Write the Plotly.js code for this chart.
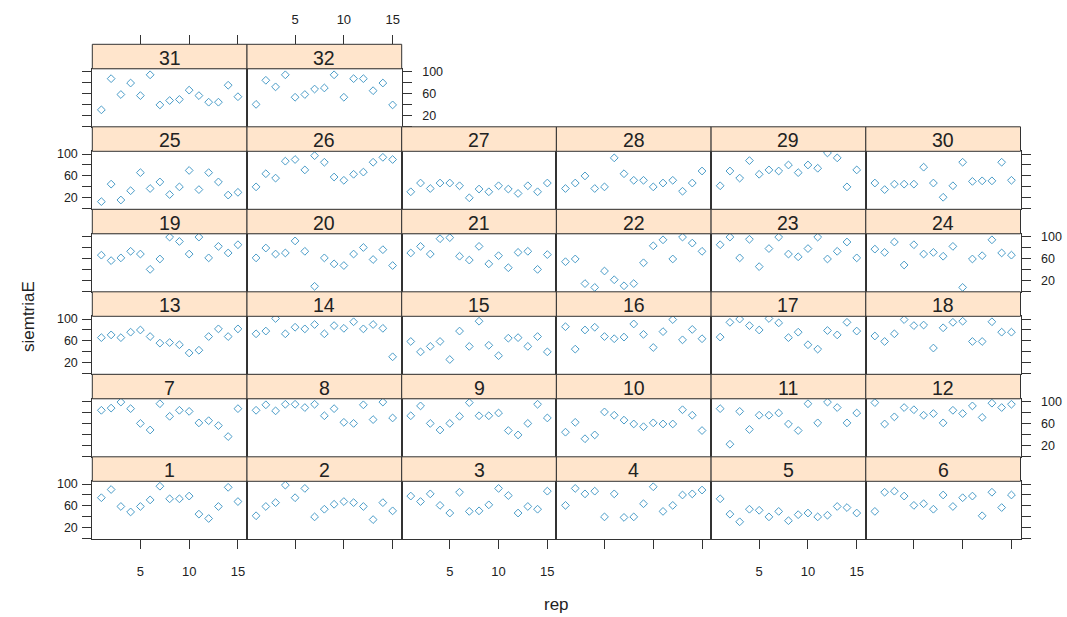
<!DOCTYPE html>
<html><head><meta charset="utf-8">
<script src="https://cdn.plot.ly/plotly-3.0.1.min.js"></script>
<style>html,body{margin:0;padding:0;background:#fff}</style>
</head><body><div id="chart" style="width:1067px;height:617px"></div>
<script>
const rep = [1,2,3,4,5,6,7,8,9,10,11,12,13,14,15];
const panelLabels = ['1','2','3','4','5','6','7','8','9','10','11','12','13','14','15','16','17','18','19','20','21','22','23','24','25','26','27','28','29','30','31','32'];
const xTicks = [5,10,15];
const yTicks = [0,20,40,60,80,100];
const yTickText = ['','20','','60','','100'];

const s1  = [75,90,59,49,59,71,96,73,73,78,45,37,59,94,68];
const s2  = [42,59,66,98,75,92,40,54,63,68,66,59,35,66,51];
const s3  = [78,68,82,61,47,85,50,51,62,92,79,47,59,54,87];
const s4  = [61,92,82,87,40,82,39,40,64,95,50,61,80,82,89];
const s5  = [73,45,31,54,52,40,50,33,44,47,40,43,59,57,47];
const s6  = [50,85,87,78,61,64,54,80,59,75,78,42,85,57,80];
const s7  = [84,88,99,87,60,48,96,73,84,82,61,65,56,36,87];
const s8  = [84,94,83,95,95,89,95,74,87,62,60,94,67,99,70];
const s9  = [74,92,60,48,60,73,98,74,74,79,47,39,60,95,70];
const s10 = [44,62,32,39,81,75,66,59,54,61,59,59,85,75,47];
const s11 = [87,22,82,49,75,75,79,59,47,96,61,99,89,61,79];
const s12 = [98,59,72,89,85,75,78,61,84,78,92,71,97,89,95];
const s13 = [66,71,66,76,80,68,56,57,53,38,43,68,82,68,82];
const s14 = [73,78,101,73,85,82,90,73,88,83,95,82,90,83,31];
const s15 = [59,40,50,59,26,78,50,96,52,33,65,66,50,68,40];
const s16 = [86,45,80,85,68,64,67,91,72,48,77,99,62,81,64];
const s17 = [67,94,100,88,80,101,93,66,76,53,45,79,71,94,78];
const s18 = [69,59,73,99,88,89,47,84,94,96,59,59,95,76,76];
const s19 = [66,56,61,73,68,40,59,99,91,68,99,61,82,70,85];
const s20 = [61,79,68,70,92,73,9,61,50,47,68,80,58,76,47];
const s21 = [70,82,68,96,98,64,57,82,50,65,43,71,73,40,67];
const s22 = [54,59,14,7,37,21,10,14,52,83,94,59,99,88,73];
const s23 = [85,99,61,95,45,78,99,68,63,78,99,59,73,90,61];
const s24 = [77,71,90,48,85,68,71,64,82,7,59,65,94,70,66];
const s25 = [13,45,16,33,66,37,49,26,40,70,35,66,49,25,30];
const s26 = [40,64,56,87,90,71,97,85,58,52,63,67,85,94,90];
const s27 = [31,47,37,47,47,42,20,36,31,42,36,28,42,31,47];
const s28 = [37,47,60,37,40,93,64,52,52,40,47,52,32,47,69];
const s29 = [42,69,56,88,63,71,69,80,66,80,74,102,93,40,71];
const s30 = [47,35,45,45,45,76,47,21,42,85,50,51,51,85,52];
const s31 = [30,87,58,79,56,94,39,47,49,66,56,44,44,75,54];
const s32 = [40,84,72,94,53,58,68,70,94,53,87,87,65,79,39];

const series = [s1,s2,s3,s4,s5,s6,s7,s8,s9,s10,s11,s12,s13,s14,s15,s16,s17,s18,s19,s20,s21,s22,s23,s24,s25,s26,s27,s28,s29,s30,s31,s32];

const W = 1067, H = 617;
const colLeft = 92.3, colW = 154.7, bottom0 = 539.3, rowStep = 82.5, plotH = 58, stripH = 24.5;
const xRange = [0.07, 15.93], yRange = [-1, 105];
const lineCol = '#333333';
const fontFam = '"Liberation Sans", Arial, sans-serif';
const tickFont = {family: fontFam, size: 13, color: '#222'};
const yTickFont = {family: fontFam, size: 12.5, color: '#222'};

const data = [];
const shapes = [];
const annotations = [];
const layout = {
  width: W, height: H, autosize: false,
  margin: {l: 0, r: 0, t: 0, b: 0},
  paper_bgcolor: '#fff', plot_bgcolor: '#fff',
  showlegend: false
};

let extraAxis = 33;
for (let i = 0; i < 32; i++) {
  const r = Math.floor(i / 6), c = i % 6;
  const n = i + 1;
  const xs = n === 1 ? 'x' : 'x' + n;
  const ys = n === 1 ? 'y' : 'y' + n;
  const xk = n === 1 ? 'xaxis' : 'xaxis' + n;
  const yk = n === 1 ? 'yaxis' : 'yaxis' + n;
  const x0 = colLeft + colW * c, x1 = x0 + colW;
  const pb = bottom0 - rowStep * r, pt = pb - plotH, st = pt - stripH;
  const isTopRow = (r === 5);
  const isRight = (c === 5) || (i === 31);
  const isLeft = (c === 0);

  data.push({
    type: 'scatter', mode: 'markers', x: rep, y: series[i],
    xaxis: xs, yaxis: ys,
    marker: {symbol: 'diamond-open', size: 6, color: '#4a9cc8', line: {width: 1}},
    hoverinfo: 'x+y'
  });

  if (isTopRow) {
    // top axis drawn above the strip, as in lattice (empty trace only registers the axis)
    const ex = 'x' + extraAxis;
    data.push({type: 'scatter', mode: 'markers', x: [], y: [], xaxis: ex, yaxis: ys, hoverinfo: 'skip'});
    layout['xaxis' + extraAxis] = {
      overlaying: xs, anchor: 'free', position: 1 - st / H, side: 'top',
      domain: [x0 / W, x1 / W], range: xRange,
      showline: false, showgrid: false, zeroline: false,
      ticks: 'outside', ticklen: 9, tickcolor: lineCol, tickwidth: 1,
      tickmode: 'array', tickvals: xTicks, ticktext: xTicks.map(String),
      showticklabels: (c === 1), tickfont: tickFont, ticklabelstandoff: 6, fixedrange: true
    };
    extraAxis++;
  }

  const xTicksOn = (r === 0);
  const xLabels = (r === 0 && c % 2 === 0);
  layout[xk] = {
    domain: [x0 / W, x1 / W], range: xRange, anchor: ys,
    showline: true, mirror: true, linecolor: lineCol, linewidth: 1,
    showgrid: false, zeroline: false, side: 'bottom',
    ticks: xTicksOn ? 'outside' : '', ticklen: 9, tickcolor: lineCol, tickwidth: 1,
    tickmode: 'array', tickvals: xTicks, ticktext: xTicks.map(String),
    showticklabels: xLabels, tickfont: tickFont, ticklabelstandoff: 11, fixedrange: true
  };

  const yTicksOn = isLeft || isRight;
  const yLabels = (isLeft && r % 2 === 0) || (isRight && r % 2 === 1);
  layout[yk] = {
    domain: [1 - pb / H, 1 - pt / H], range: yRange, anchor: xs,
    showline: true, mirror: true, linecolor: lineCol, linewidth: 1,
    showgrid: false, zeroline: false,
    side: isRight ? 'right' : 'left',
    ticks: yTicksOn ? 'outside' : '', ticklen: 9, tickcolor: lineCol, tickwidth: 1,
    tickmode: 'array', tickvals: yTicks, ticktext: yTickText,
    showticklabels: yLabels, tickfont: yTickFont, ticklabelstandoff: isRight ? 8 : 2, fixedrange: true
  };

  shapes.push({
    type: 'rect', xref: 'paper', yref: 'paper',
    x0: x0 / W, x1: x1 / W, y0: 1 - pt / H, y1: 1 - st / H,
    fillcolor: '#FFE5CC', line: {color: lineCol, width: 1}, layer: 'above'
  });
  annotations.push({
    xref: 'paper', yref: 'paper', x: (x0 + x1) / 2 / W, y: 1 - ((st + pt) / 2 + 1) / H,
    text: panelLabels[i], showarrow: false, xanchor: 'center', yanchor: 'middle',
    font: {family: fontFam, size: 19.5, color: '#222'}
  });
}

annotations.push({
  xref: 'paper', yref: 'paper', x: 556 / W, y: 1 - 604 / H,
  text: 'rep', showarrow: false, xanchor: 'center', yanchor: 'middle',
  font: {family: fontFam, size: 17, color: '#222'}
});
annotations.push({
  xref: 'paper', yref: 'paper', x: 28 / W, y: 1 - 317 / H,
  text: 'siemtriaE', showarrow: false, textangle: -90, xanchor: 'center', yanchor: 'middle',
  font: {family: fontFam, size: 17, color: '#222'}
});

layout.shapes = shapes;
layout.annotations = annotations;

Plotly.newPlot('chart', data, layout, {staticPlot: true, displayModeBar: false});
</script>
</body></html>
